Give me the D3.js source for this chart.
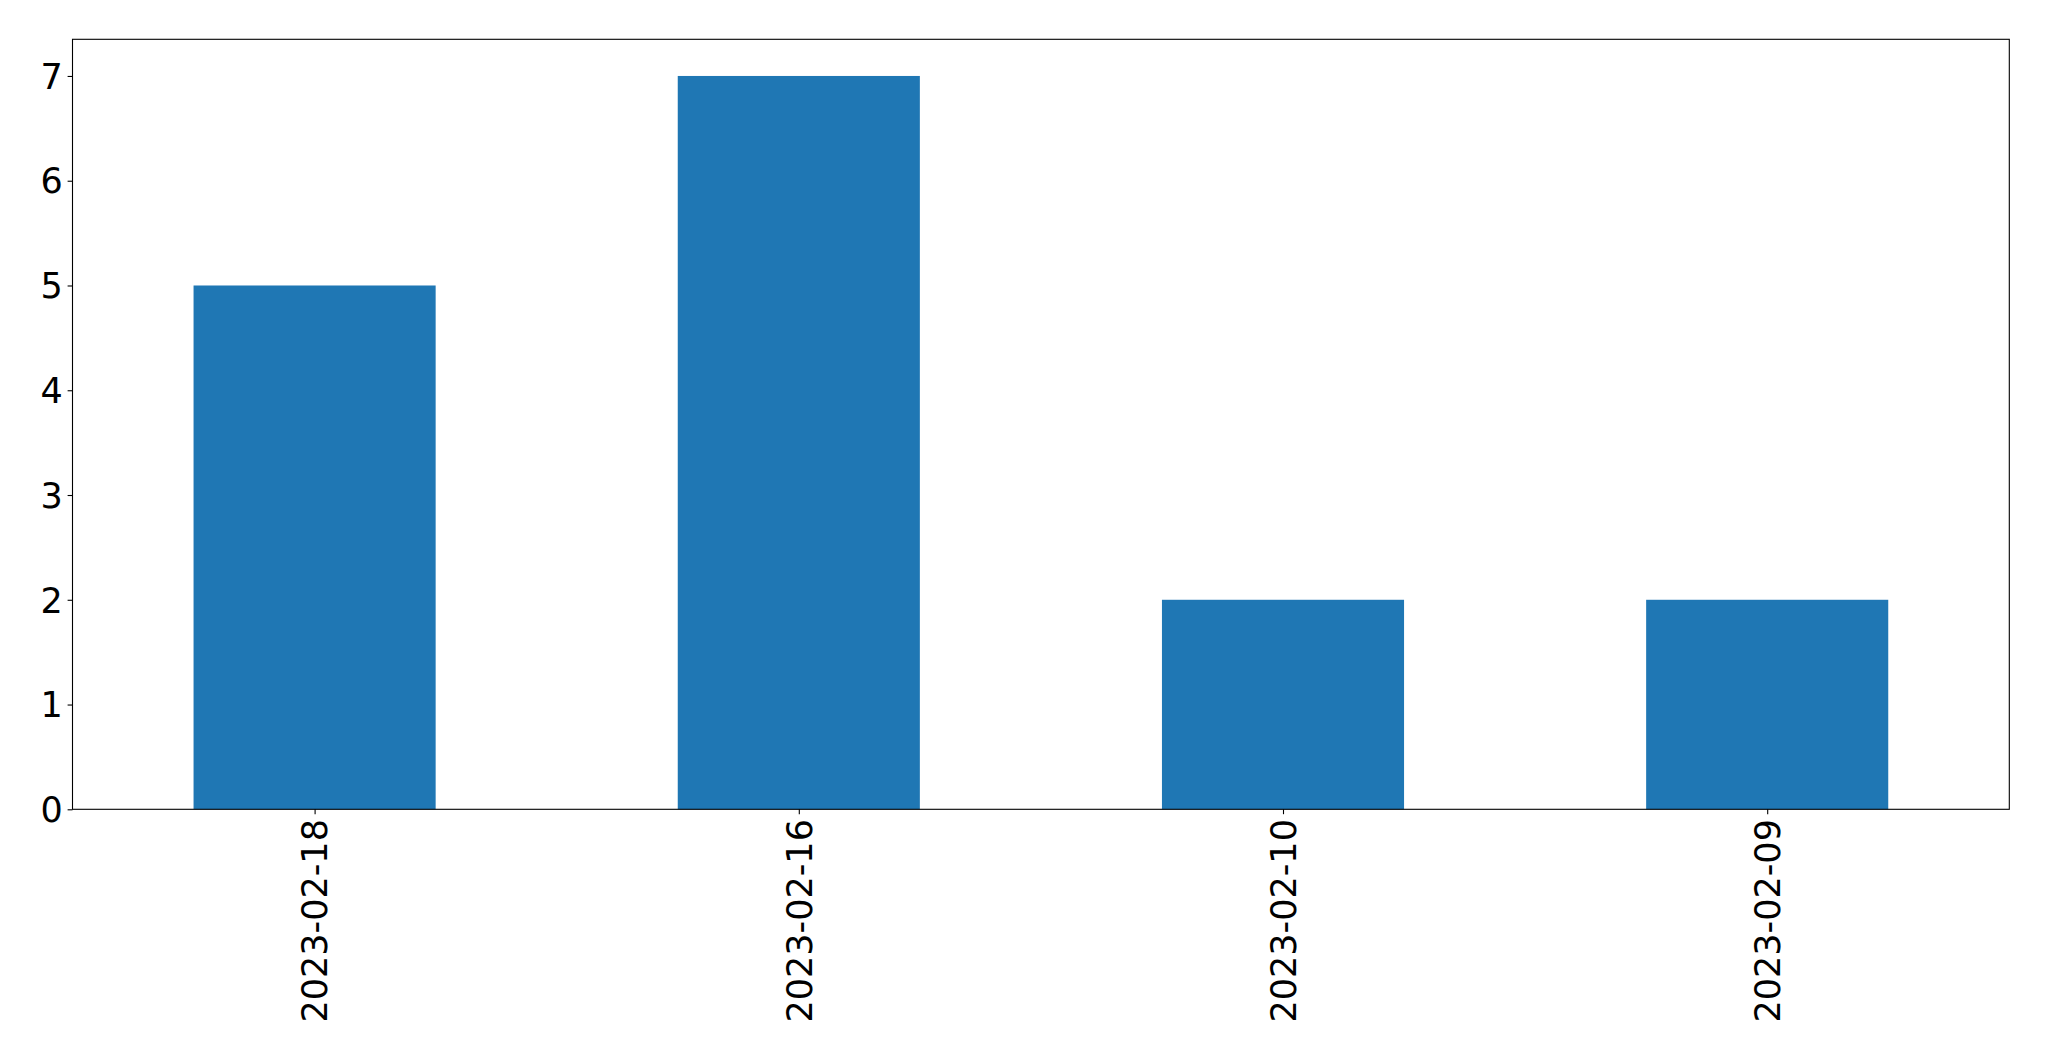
<!DOCTYPE html>
<html><head><meta charset="utf-8">
<script src="https://cdn.jsdelivr.net/npm/d3@7"></script>
<style>html,body{margin:0;padding:0;background:#fff;}svg{display:block;}</style>
</head><body>
<script>
const categories = ["2023-02-18", "2023-02-16", "2023-02-10", "2023-02-09"];
const values = [5, 7, 2, 2];
const yTicks = [0, 1, 2, 3, 4, 5, 6, 7];

const W = 2049, H = 1061;
const m = {left: 72.5, top: 39.3, right: 2049 - 2009.3, bottom: 1061 - 809.3};
const iw = W - m.left - m.right, ih = H - m.top - m.bottom;
const fontSize = 35;

const svg = d3.select("body").append("svg").attr("width", W).attr("height", H);
const g = svg.append("g").attr("transform", `translate(${m.left},${m.top})`);

const x = d3.scaleLinear().domain([-0.5, categories.length - 0.5]).range([0, iw]);
const y = d3.scaleLinear().domain([0, 7.35]).range([ih, 0]);
const bw = 0.5;

g.selectAll("rect.bar").data(values).enter().append("rect")
  .attr("class", "bar")
  .attr("x", (d, i) => x(i - bw / 2))
  .attr("width", (d, i) => x(i + bw / 2) - x(i - bw / 2))
  .attr("y", d => y(d))
  .attr("height", d => y(0) - y(d))
  .attr("fill", "#1f77b4");

const yAxis = g.append("g").call(d3.axisLeft(y).tickValues(yTicks).tickFormat(d3.format("d")).tickSize(4.9).tickPadding(4.9));
const xAxis = g.append("g").attr("transform", `translate(0,${ih})`)
  .call(d3.axisBottom(x).tickValues(d3.range(categories.length)).tickFormat(i => categories[i]).tickSize(4.9).tickPadding(4.9));

[yAxis, xAxis].forEach(a => {
  a.select(".domain").remove();
  a.selectAll("line").attr("stroke", "#000").attr("stroke-width", 1.1);
  a.selectAll("text").attr("font-family", "DejaVu Sans").attr("font-size", fontSize).attr("fill", "#000");
});
yAxis.selectAll("text").attr("dy", "0.35em");
xAxis.selectAll("text")
  .attr("transform", "rotate(-90)")
  .attr("text-anchor", "end")
  .attr("x", -9.8)
  .attr("y", 0)
  .attr("dy", "0.35em");

g.append("rect").attr("x", 0).attr("y", 0).attr("width", iw).attr("height", ih)
  .attr("fill", "none").attr("stroke", "#000").attr("stroke-width", 1.1);
</script>
</body></html>
